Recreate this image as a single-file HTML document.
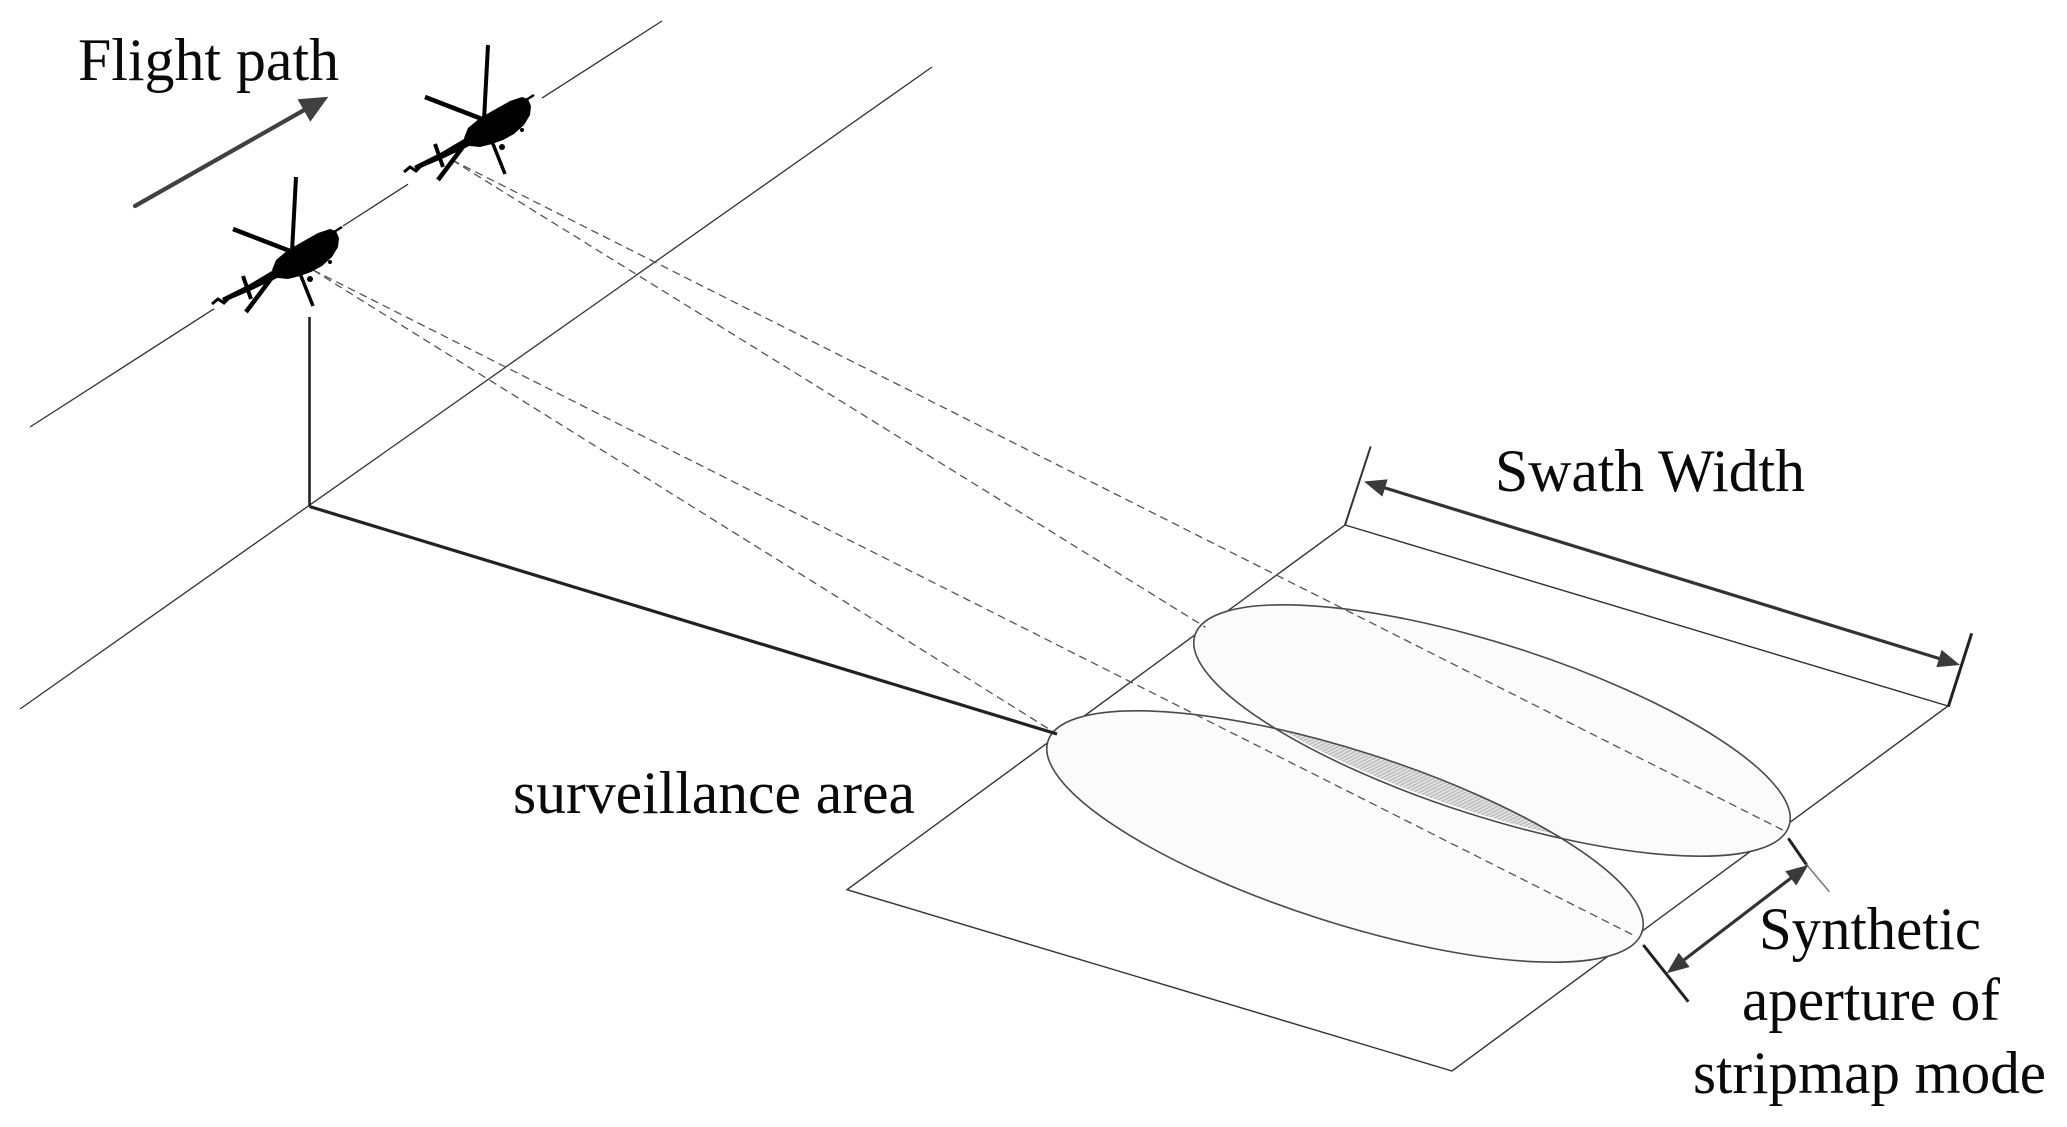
<!DOCTYPE html>
<html>
<head>
<meta charset="utf-8">
<style>
  html, body { margin: 0; padding: 0; background: #ffffff; }
  svg { display: block; }
  text { font-family: "Liberation Serif", "DejaVu Serif", "Noto Serif CJK SC", serif; }
</style>
</head>
<body>
<svg width="2067" height="1127" viewBox="0 0 2067 1127">
  <defs>
    <pattern id="hatch" width="3" height="3" patternUnits="userSpaceOnUse" patternTransform="rotate(45)">
      <rect width="3" height="3" fill="#e3e3e3"/>
      <line x1="0.5" y1="0" x2="0.5" y2="3" stroke="#b3b3b3" stroke-width="1.2"/>
    </pattern>
    <clipPath id="clipLower" clipPathUnits="userSpaceOnUse">
      <ellipse cx="1345" cy="836.5" rx="312" ry="86" transform="rotate(17.8 1345 836.5)"/>
    </clipPath>
  </defs>

  <rect width="2067" height="1127" fill="#ffffff"/>

  <!-- Flight path lines -->
  <g stroke="#333" stroke-width="1.3" fill="none">
    <line x1="30" y1="427" x2="214" y2="308.8"/>
    <line x1="343" y1="226" x2="408" y2="184.2"/>
    <line x1="542" y1="98.1" x2="662" y2="21"/>
    <line x1="20" y1="709" x2="932" y2="67"/>
  </g>

  <!-- Ground parallelogram -->
  <polygon points="847,889.7 1345,525 1948,706 1452,1071" fill="none" stroke="#333" stroke-width="1.4"/>

  <!-- Ellipse fills -->
  <ellipse cx="1345" cy="836.5" rx="312" ry="86" transform="rotate(17.8 1345 836.5)" fill="#fbfbfb"/>
  <ellipse cx="1492" cy="730.5" rx="312" ry="86" transform="rotate(17.8 1492 730.5)" fill="#fbfbfb"/>
  <!-- Lens intersection (hatched) -->
  <g clip-path="url(#clipLower)">
    <ellipse cx="1492" cy="730.5" rx="312" ry="86" transform="rotate(17.8 1492 730.5)" fill="url(#hatch)"/>
    <ellipse cx="1492" cy="730.5" rx="312" ry="86" transform="rotate(17.8 1492 730.5)" fill="none" stroke="#ffffff" stroke-width="5"/>
  </g>
  <!-- Ellipse outlines -->
  <g fill="none" stroke="#4a4a4a" stroke-width="1.6">
    <ellipse cx="1345" cy="836.5" rx="312" ry="86" transform="rotate(17.8 1345 836.5)"/>
    <ellipse cx="1492" cy="730.5" rx="312" ry="86" transform="rotate(17.8 1492 730.5)"/>
  </g>

  <!-- Dashed radar lines -->
  <g stroke="#555" stroke-width="1.3" stroke-dasharray="8,5" fill="none">
    <line x1="452" y1="160" x2="1782.7" y2="830"/>
    <line x1="452" y1="160" x2="1205.6" y2="627.3"/>
    <line x1="313" y1="270" x2="1636.5" y2="936.7"/>
    <line x1="313" y1="270" x2="1057" y2="734"/>
  </g>

  <!-- Vertical line and ground range line -->
  <line x1="309.5" y1="317" x2="309.5" y2="506.5" stroke="#222" stroke-width="2.6"/>
  <line x1="309.5" y1="506.5" x2="1057" y2="734" stroke="#222" stroke-width="3.2"/>

  <!-- Flight path arrow -->
  <line x1="135" y1="206" x2="306" y2="109" stroke="#404040" stroke-width="4.2" stroke-linecap="round"/>
  <polygon points="328.3,96.7 310.3,121.8 297.5,99.2" fill="#404040"/>

  <!-- Swath width dimension -->
  <line x1="1345" y1="525" x2="1370.7" y2="446.4" stroke="#333" stroke-width="2"/>
  <line x1="1948.3" y1="706.7" x2="1971.7" y2="633.3" stroke="#222" stroke-width="3"/>
  <line x1="1380" y1="486.4" x2="1944" y2="660" stroke="#333" stroke-width="3.2"/>
  <polygon points="1364,481.5 1382.4,496.6 1387.6,479.4" fill="#3a3a3a"/>
  <polygon points="1960,665 1936.4,667.1 1941.6,649.9" fill="#3a3a3a"/>

  <!-- Synthetic aperture dimension -->
  <line x1="1788.3" y1="838.3" x2="1806.7" y2="865" stroke="#222" stroke-width="3"/>
  <line x1="1806" y1="864" x2="1829.3" y2="891.7" stroke="#777" stroke-width="1.5"/>
  <line x1="1643.3" y1="945" x2="1688.3" y2="1001.7" stroke="#222" stroke-width="3"/>
  <line x1="1680" y1="963" x2="1795" y2="875" stroke="#333" stroke-width="3.2"/>
  <polygon points="1808.3,865 1796.3,885.5 1785.3,871.3" fill="#3a3a3a"/>
  <polygon points="1666.7,973.3 1689.7,967.0 1678.7,952.8" fill="#3a3a3a"/>

  <!-- Helicopter 1 -->
  <g fill="#000" stroke="#000" stroke-linecap="butt">
    <line x1="292" y1="252" x2="296" y2="177" stroke-width="4"/>
    <line x1="233" y1="229" x2="290" y2="251" stroke-width="4.5"/>
    <line x1="297" y1="266" x2="313" y2="306" stroke-width="3.5"/>
    <line x1="246" y1="312" x2="276" y2="272" stroke-width="4.5"/>
    <polygon points="287,262 292,271 252,290 224,302 222,298 250,284" stroke="none"/>
    <line x1="243" y1="276" x2="251" y2="299" stroke-width="4"/>
    <path d="M212,304 L218,299 L224,303 L230,297" fill="none" stroke-width="3"/>
    <polygon points="272,270 276,260 288,250 302,242 318,233 330,229 336,231 339,238 338,247 332,257 322,266 311,272 300,276 288,279 278,278" stroke="none"/>
    <line x1="334" y1="232" x2="342" y2="227" stroke-width="2.5"/>
    <circle cx="310" cy="279" r="3" stroke="none"/>
    <circle cx="330" cy="262" r="2" stroke="none"/>
  </g>

  <!-- Helicopter 2 -->
  <g transform="translate(192,-132)" fill="#000" stroke="#000" stroke-linecap="butt">
    <line x1="292" y1="252" x2="296" y2="177" stroke-width="4"/>
    <line x1="233" y1="229" x2="290" y2="251" stroke-width="4.5"/>
    <line x1="297" y1="266" x2="313" y2="306" stroke-width="3.5"/>
    <line x1="246" y1="312" x2="276" y2="272" stroke-width="4.5"/>
    <polygon points="287,262 292,271 252,290 224,302 222,298 250,284" stroke="none"/>
    <line x1="243" y1="276" x2="251" y2="299" stroke-width="4"/>
    <path d="M212,304 L218,299 L224,303 L230,297" fill="none" stroke-width="3"/>
    <polygon points="272,270 276,260 288,250 302,242 318,233 330,229 336,231 339,238 338,247 332,257 322,266 311,272 300,276 288,279 278,278" stroke="none"/>
    <line x1="334" y1="232" x2="342" y2="227" stroke-width="2.5"/>
    <circle cx="310" cy="279" r="3" stroke="none"/>
    <circle cx="330" cy="262" r="2" stroke="none"/>
  </g>

  <!-- Labels -->
  <g font-family="'Liberation Serif', 'DejaVu Serif', 'Noto Serif CJK SC', serif" font-size="60" fill="#0a0a0a">
    <text x="78" y="80" textLength="261" lengthAdjust="spacingAndGlyphs">Flight path</text>
    <text x="1495" y="491" textLength="310" lengthAdjust="spacingAndGlyphs">Swath Width</text>
    <text x="513" y="813" textLength="402" lengthAdjust="spacingAndGlyphs">surveillance area</text>
    <text x="1759" y="949" textLength="222" lengthAdjust="spacingAndGlyphs">Synthetic</text>
    <text x="1742" y="1020" textLength="258" lengthAdjust="spacingAndGlyphs">aperture of</text>
    <text x="1693" y="1093" textLength="353" lengthAdjust="spacingAndGlyphs">stripmap mode</text>
  </g>
</svg>
</body>
</html>
